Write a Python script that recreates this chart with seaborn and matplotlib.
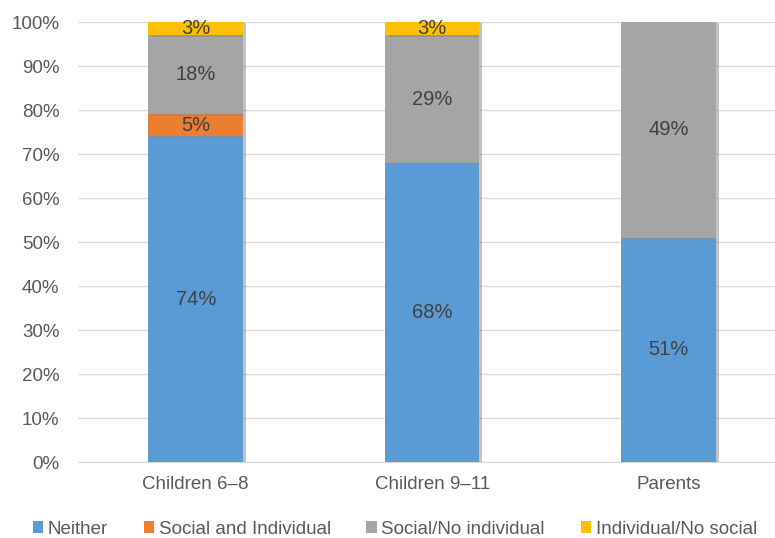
import numpy as np
import pandas as pd
import matplotlib
matplotlib.use("Agg")
import matplotlib.pyplot as plt
import matplotlib.patheffects as pe
from matplotlib.patches import Patch
import seaborn as sns

groups = ["Children 6\u20138", "Children 9\u201311", "Parents"]
series = ["Neither", "Social and Individual", "Social/No individual", "Individual/No social"]
neither = [74, 68, 51]
social_and_ind = [5, 0, 0]
social_no_ind = [18, 29, 49]
ind_no_social = [3, 3, 0]
colors = ["#5B9BD5", "#ED7D31", "#A5A5A5", "#FFC000"]

sns.set_style("white")
plt.rcParams["font.family"] = ["Liberation Sans", "DejaVu Sans"]

fig = plt.figure(figsize=(7.75, 5.38), dpi=100)
ax = fig.add_axes([0.10, 0.141, 0.90, 0.818])

values = [neither, social_and_ind, social_no_ind, ind_no_social]
bottom = np.zeros(len(groups))
for name, vals, col in zip(series, values, colors):
    df = pd.DataFrame({"group": groups, "pct": vals})
    sns.barplot(data=df, x="group", y="pct", bottom=bottom, color=col,
                width=0.4, ax=ax, saturation=1, zorder=3, edgecolor="none")
    for i, v in enumerate(vals):
        if v > 0:
            ax.text(i, bottom[i] + v / 2, f"{v}%", ha="center", va="center",
                    fontsize=14.5, color="#404040", zorder=5)
    bottom = bottom + np.array(vals)

for p in ax.patches:
    p.set_path_effects([pe.SimplePatchShadow(offset=(2, -1), shadow_rgbFace="#888888", alpha=0.5), pe.Normal()])

ax.set_ylim(0, 100)
ax.set_xlim(-0.5, 2.45)
ax.set_yticks(np.arange(0, 101, 10))
ax.set_yticklabels([f"{t}%" for t in range(0, 101, 10)])
ax.yaxis.grid(True, color="#D9D9D9", linewidth=1, zorder=0)
ax.set_axisbelow(True)
for s in ["top", "right", "left"]:
    ax.spines[s].set_visible(False)
ax.spines["bottom"].set_color("#D9D9D9")
ax.tick_params(axis="y", length=0, labelsize=13.5, colors="#595959", pad=13)
ax.tick_params(axis="x", length=0, labelsize=13.5, colors="#595959", pad=10)
ax.set_xlabel("")
ax.set_ylabel("")

handles = [Patch(facecolor=c, edgecolor="none") for c in colors]
ax.legend(handles, series, loc="center", bbox_to_anchor=(0.455, -0.152),
          ncol=4, frameon=False, fontsize=13.5, handlelength=0.55, handleheight=0.55,
          handletextpad=0.25, columnspacing=1.9, labelcolor="#595959")

fig.savefig("out.png", dpi=100)
